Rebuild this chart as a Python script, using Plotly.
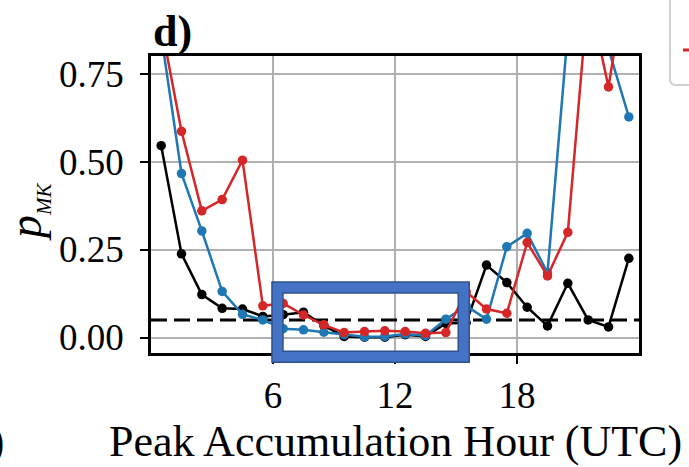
import plotly.graph_objects as go

# ---- data ----
HOURS = [0.5, 1.5, 2.5, 3.5, 4.5, 5.5, 6.5, 7.5, 8.5, 9.5, 10.5, 11.5,
         12.5, 13.5, 14.5, 15.5, 16.5, 17.5, 18.5, 19.5, 20.5, 21.5, 22.5, 23.5]
P_BLACK = [0.545, 0.238, 0.122, 0.083, 0.081, 0.060, 0.065, 0.072, 0.034, 0.003, 0.001, 0.001,
           0.008, 0.003, 0.040, 0.042, 0.206, 0.156, 0.086, 0.033, 0.154, 0.050, 0.030, 0.225]
P_BLUE = [0.86, 0.466, 0.303, 0.131, 0.066, 0.050, 0.025, 0.022, 0.015, 0.008, 0.002, 0.003,
          0.010, 0.005, 0.052, 0.090, 0.052, 0.258, 0.296, 0.184, 0.87, 1.00, 0.82, 0.627]
P_RED = [0.89, 0.586, 0.360, 0.392, 0.504, 0.090, 0.097, 0.064, 0.036, 0.014, 0.017, 0.019,
         0.017, 0.012, 0.014, 0.130, 0.081, 0.069, 0.270, 0.175, 0.299, 0.98, 0.712, 1.07]
THRESHOLD = 0.05
X_TICKS = [6, 12, 18]
Y_TICKS = [0.0, 0.25, 0.5, 0.75]
Y_TICK_TEXT = ["0.00", "0.25", "0.50", "0.75"]
X_RANGE = [0, 24]
Y_RANGE = [-0.044, 0.80]
# highlighted window (hours, p-values)
BOX_X = [6.22, 15.38]
BOX_Y = [-0.055, 0.142]

FONT = "Liberation Serif"
BLACK = "#000000"
BLUE = "#1f77b4"
RED = "#d62728"


def px(h):
    return (h - X_RANGE[0]) / (X_RANGE[1] - X_RANGE[0])


def py(v):
    return (v - Y_RANGE[0]) / (Y_RANGE[1] - Y_RANGE[0])


fig = go.Figure()
fig.add_trace(go.Scatter(x=X_RANGE, y=[THRESHOLD, THRESHOLD], mode="lines",
                         line=dict(color="black", width=3, dash="16px,7px"),
                         hoverinfo="skip", showlegend=False))
for ys, col in [(P_BLACK, BLACK), (P_BLUE, BLUE), (P_RED, RED)]:
    fig.add_trace(go.Scatter(x=HOURS, y=ys, mode="lines+markers",
                             line=dict(color=col, width=2.5),
                             marker=dict(color=col, size=9.5),
                             showlegend=False))

# highlight box (outside-clipping -> paper refs)
bx0, bx1 = px(BOX_X[0]), px(BOX_X[1])
by0, by1 = py(BOX_Y[0]), py(BOX_Y[1])
W, H = 488.0, 297.0
fig.add_shape(type="rect", xref="paper", yref="paper", x0=bx0, x1=bx1, y0=by0, y1=by1,
              line=dict(color="#4472C4", width=11), fillcolor="rgba(0,0,0,0)")
o = 5.5
fig.add_shape(type="rect", xref="paper", yref="paper", x0=bx0 - o / W, x1=bx1 + o / W,
              y0=by0 - o / H, y1=by1 + o / H, line=dict(color="#2F528F", width=1.5))
fig.add_shape(type="rect", xref="paper", yref="paper", x0=bx0 + o / W, x1=bx1 - o / W,
              y0=by0 + o / H, y1=by1 - o / H, line=dict(color="#2F528F", width=1.5))

# partial legend frame at top right (cut off by the page edge)
xl = (670 - 151) / W
yb = (353 - 85) / H
rx, ry = 6 / W, 6 / H
fig.add_shape(type="path", xref="paper", yref="paper",
              path=f"M 1.2,{yb} L {xl + rx},{yb} Q {xl},{yb} {xl},{yb + ry} L {xl},1.3",
              line=dict(color="#d0d0d0", width=2))
fig.add_shape(type="line", xref="paper", yref="paper",
              x0=(683 - 151) / W, x1=1.2, y0=(353 - 50) / H, y1=(353 - 50) / H,
              line=dict(color=RED, width=3))

fig.add_annotation(text="<b>d)</b>", xref="paper", yref="paper", x=0, y=1,
                   xanchor="left", yanchor="bottom", yshift=-2, showarrow=False,
                   font=dict(family=FONT, size=44, color="black"))
fig.add_annotation(text="Peak Accumulation Hour (UTC)", xref="paper", yref="paper",
                   x=0.5, y=(353 - 441) / H, xanchor="center", yanchor="middle",
                   showarrow=False, font=dict(family=FONT, size=44, color="black"))
fig.add_annotation(text="(UTC)", xref="paper", yref="paper",
                   x=(6 - 151) / W, y=(353 - 441) / H, xanchor="right", yanchor="middle",
                   showarrow=False, font=dict(family=FONT, size=44, color="black"))
fig.add_annotation(text="<i>p</i><sub><span style='font-size:21px'><i>MK</i></span></sub>",
                   xref="paper", yref="paper", x=(28 - 151) / W, y=(353 - 212) / H,
                   xanchor="center", yanchor="middle", textangle=-90, showarrow=False,
                   font=dict(family=FONT, size=46, color="black"))

axis_common = dict(showline=True, mirror=True, linecolor="black", linewidth=2.5,
                   showgrid=True, gridcolor="#b0b0b0", gridwidth=2,
                   ticks="outside", ticklen=8, tickwidth=2, tickcolor="black",
                   zeroline=False, tickfont=dict(family=FONT, size=37, color="black"))
fig.update_xaxes(range=X_RANGE, tickvals=X_TICKS, ticktext=[str(t) for t in X_TICKS],
                 ticklabelstandoff=0, **axis_common)
fig.update_yaxes(range=Y_RANGE, tickvals=Y_TICKS, ticktext=Y_TICK_TEXT,
                 ticklabelstandoff=9, **axis_common)
fig.update_layout(width=689, height=467, margin=dict(l=151, r=50, t=56, b=114),
                  plot_bgcolor="white", paper_bgcolor="white", showlegend=False,
                  font=dict(family=FONT, color="black"))
fig.write_html("out.html")
